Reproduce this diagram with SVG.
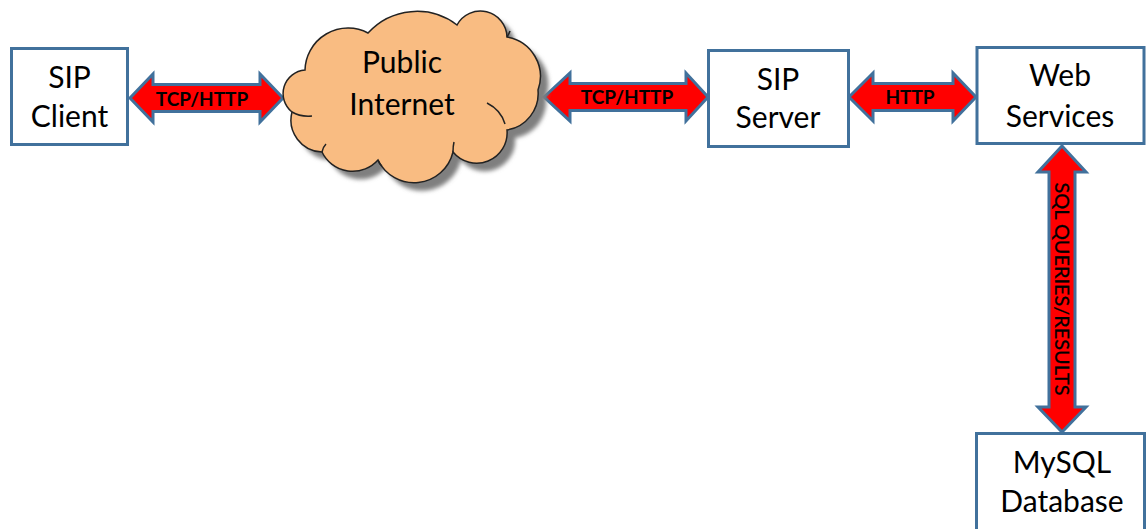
<svg xmlns="http://www.w3.org/2000/svg" width="1146" height="529" viewBox="0 0 1146 529">
  <defs>
    <style>
      .box { fill: #ffffff; stroke: #41719C; stroke-width: 3; }
      .label { font-family: Lato, "Open Sans", "Liberation Sans", sans-serif; font-size: 30px; fill: #000; text-anchor: middle; }
      .arrow { fill: #FF0000; stroke: #41719C; stroke-width: 3; stroke-linejoin: miter; }
      .tag { font-family: Lato, "Liberation Sans", sans-serif; font-weight: bold; font-size: 19px; fill: #000; text-anchor: middle; }
      .cloud { fill: #F9BC82; stroke: #222; stroke-width: 1.5; }
      .crease { fill: none; stroke: #222; stroke-width: 1.5; }
    </style>
    <filter id="soft" x="-10%" y="-10%" width="120%" height="120%">
      <feGaussianBlur stdDeviation="2"/>
    </filter>
    <path id="cloudShape" d="M292,112 A23.6 23.6 0 0 1 305,70 A43 43 0 0 1 368,33 A66 66 0 0 1 457,25 A26.6 26.6 0 0 1 507,37 A40 40 0 0 1 538,90 A37 37 0 0 1 507,130 A30.5 30.5 0 0 1 453,152 A40 40 0 0 1 378,160 A34 34 0 0 1 322,152 A32 32 0 0 1 292,112 Z"/>
  </defs>

  <!-- links -->
  <g id="connectors">
    <g id="link-client-internet">
      <polygon class="arrow" points="130,98 153,74 153,84.5 260,84.5 260,74 283,98 260,122 260,111.5 153,111.5 153,122"/>
      <text class="tag" x="202" y="106">TCP/HTTP</text>
    </g>
    <g id="link-internet-server">
      <polygon class="arrow" points="544,97 570,73 570,83.5 686,83.5 686,73 708,97 686,121 686,110.5 570,110.5 570,121"/>
      <text class="tag" x="627" y="104">TCP/HTTP</text>
    </g>
    <g id="link-server-web">
      <polygon class="arrow" points="849,97 873,73 873,83.5 953,83.5 953,73 976,97 953,121 953,110.5 873,110.5 873,121"/>
      <text class="tag" x="910" y="104">HTTP</text>
    </g>
    <g id="link-web-db">
      <polygon class="arrow" points="1062,146 1086,172 1075,172 1075,407 1086,407 1062,432 1038,407 1049,407 1049,172 1038,172"/>
      <text transform="translate(1055,289) rotate(90)" font-family="Lato, 'Liberation Sans', sans-serif" font-size="20" text-anchor="middle" textLength="213" lengthAdjust="spacingAndGlyphs" fill="#000" stroke="#000" stroke-width="0.3">SQL QUERIES/RESULTS</text>
    </g>
  </g>

  <!-- nodes -->
  <g id="sip-client">
    <rect class="box" x="11.5" y="48.5" width="116" height="96"/>
    <text class="label" x="69.5" y="88">SIP</text>
    <text class="label" x="69.5" y="127">Client</text>
  </g>

  <g id="public-internet">
    <use href="#cloudShape" transform="translate(8,8)" fill="#7F7F7F" filter="url(#soft)"/>
    <use href="#cloudShape" class="cloud"/>
    <!-- inner fold lines of the cloud -->
    <path class="crease" d="M292,112 Q300,117 312,116"/>
    <path class="crease" d="M322,152 Q323,147 326,144"/>
    <path class="crease" d="M378,160 Q379,164 382,166"/>
    <path class="crease" d="M453,152 Q453,146 454,142"/>
    <path class="crease" d="M487,103 Q501,110 505,124"/>
    <path class="crease" d="M507,37 Q509,34 510,31"/>
    <text class="label" x="402" y="73">Public</text>
    <text class="label" x="402" y="115">Internet</text>
  </g>

  <g id="sip-server">
    <rect class="box" x="708.5" y="50.5" width="140" height="96"/>
    <text class="label" x="778" y="90">SIP</text>
    <text class="label" x="778" y="128">Server</text>
  </g>

  <g id="web-services">
    <rect class="box" x="977" y="47.5" width="167" height="96"/>
    <text class="label" x="1060" y="86">Web</text>
    <text class="label" x="1060" y="127">Services</text>
  </g>

  <g id="mysql-database">
    <rect class="box" x="976.5" y="433.5" width="168" height="100"/>
    <text class="label" x="1062" y="473">MySQL</text>
    <text class="label" x="1062" y="512">Database</text>
  </g>
</svg>
